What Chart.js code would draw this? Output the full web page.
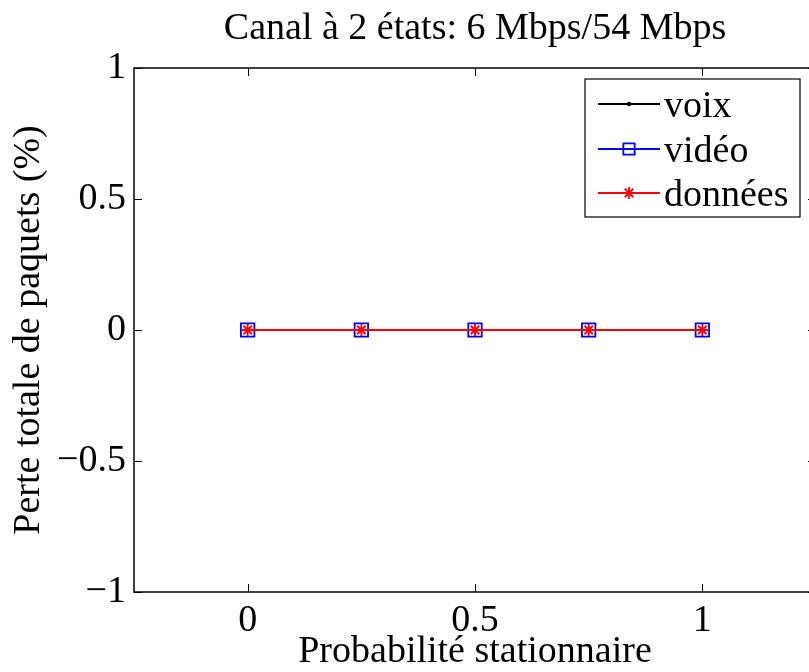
<!DOCTYPE html>
<html>
<head>
<meta charset="utf-8">
<script src="https://cdn.jsdelivr.net/npm/chart.js@4"></script>
<style>
  html, body { margin: 0; padding: 0; background: #fff; overflow: hidden; }
  #wrap { width: 809px; height: 672px; overflow: hidden; }
</style>
</head>
<body>
<div id="wrap"><canvas id="c" width="840" height="672"></canvas></div>
<script>
// data
const probs = [0, 0.25, 0.5, 0.75, 1];
const voix = [0, 0, 0, 0, 0];
const video = [0, 0, 0, 0, 0];
const donnees = [0, 0, 0, 0, 0];
const xTicks = [0, 0.5, 1];
const titleText = 'Canal à 2 états: 6 Mbps/54 Mbps';

const FONT = '"Liberation Serif", "Times New Roman", serif';

const pts = arr => arr.map((v, i) => ({ x: probs[i], y: v }));

// MATLAB-like frame: box, inward ticks, title and legend
const matlabFrame = {
  id: 'matlabFrame',
  afterDraw(chart) {
    const ctx = chart.ctx;
    const a = chart.chartArea;
    const xs = chart.scales.x, ys = chart.scales.y;
    ctx.save();
    ctx.strokeStyle = '#000';
    ctx.lineWidth = 1;
    // inward ticks
    ctx.beginPath();
    xTicks.forEach(t => {
      const px = Math.round(xs.getPixelForValue(t)) + 0.5;
      ctx.moveTo(px, a.bottom); ctx.lineTo(px, a.bottom - 8);
      ctx.moveTo(px, a.top); ctx.lineTo(px, a.top + 8);
    });
    ys.ticks.forEach(t => {
      const py = Math.round(ys.getPixelForValue(t.value)) + 0.5;
      ctx.moveTo(a.left, py); ctx.lineTo(a.left + 8, py);
      ctx.moveTo(a.right, py); ctx.lineTo(a.right - 8, py);
    });
    ctx.stroke();
    // box
    ctx.lineWidth = 1.5;
    ctx.strokeRect(a.left, a.top, a.right - a.left, a.bottom - a.top);

    // title
    ctx.fillStyle = '#000';
    ctx.font = '38px ' + FONT;
    ctx.textAlign = 'center';
    ctx.textBaseline = 'alphabetic';
    ctx.fillText(titleText, (a.left + a.right) / 2, 39);

    // legend
    const lx = 585, ly = 79, lw = 215, lh = 138;
    ctx.fillStyle = '#fff';
    ctx.fillRect(lx, ly, lw, lh);
    ctx.lineWidth = 1.2;
    ctx.strokeStyle = '#000';
    ctx.strokeRect(lx, ly, lw, lh);
    const rows = [104, 149, 193];
    chart.data.datasets.slice().sort((p, q) => p.legendRank - q.legendRank).forEach((ds, i) => {
      const y = rows[i];
      ctx.strokeStyle = ds.borderColor;
      ctx.lineWidth = ds.borderWidth;
      ctx.beginPath();
      ctx.moveTo(598, y); ctx.lineTo(660, y);
      ctx.stroke();
      ctx.fillStyle = ds.backgroundColor;
      ctx.strokeStyle = ds.pointBorderColor;
      ctx.lineWidth = ds.pointBorderWidth;
      Chart.helpers.drawPoint(ctx, {
        pointStyle: ds.pointStyle,
        radius: ds.legendRadius,
        borderWidth: ds.pointBorderWidth,
      }, 629, y);
      ctx.fillStyle = '#000';
      ctx.font = '38px ' + FONT;
      ctx.textAlign = 'left';
      ctx.textBaseline = 'alphabetic';
      ctx.fillText(ds.label, 664, y + 13);
    });
    ctx.restore();
  }
};

new Chart(document.getElementById('c'), {
  type: 'line',
  data: {
    datasets: [
      {
        label: 'données',
        data: pts(donnees),
        borderColor: '#ff0000',
        backgroundColor: '#ff0000',
        pointBorderColor: '#ff0000',
        borderWidth: 1.8,
        pointStyle: 'star',
        pointRadius: 6,
        legendRadius: 6,
        pointBorderWidth: 1.8,
        order: 0,
        legendRank: 2
      },
      {
        label: 'vidéo',
        data: pts(video),
        borderColor: '#0000ff',
        backgroundColor: 'rgba(0,0,0,0)',
        pointBorderColor: '#0000ff',
        borderWidth: 1.8,
        pointStyle: 'rect',
        pointRadius: 9.5,
        legendRadius: 8,
        pointBorderWidth: 1.8,
        order: 1,
        legendRank: 1
      },
      {
        label: 'voix',
        data: pts(voix),
        borderColor: '#000000',
        backgroundColor: '#000000',
        pointBorderColor: '#000000',
        borderWidth: 1.8,
        pointStyle: 'circle',
        pointRadius: 1.5,
        legendRadius: 1.5,
        pointBorderWidth: 1.5,
        order: 2,
        legendRank: 0
      }
    ]
  },
  options: {
    responsive: false,
    animation: false,
    events: [],
    layout: { padding: { top: 68, left: 0, right: 24, bottom: 0 } },
    plugins: {
      legend: { display: false },
      tooltip: { enabled: false },
      title: { display: false }
    },
    scales: {
      x: {
        type: 'linear',
        min: -0.25,
        max: 1.25,
        afterBuildTicks: s => { s.ticks = xTicks.map(v => ({ value: v })); },
        afterFit: s => { s.height = 80; },
        grid: { display: false, drawTicks: false },
        border: { display: false },
        ticks: {
          color: '#000',
          padding: 6,
          font: { family: FONT, size: 38 },
          callback: v => String(v)
        },
        title: {
          display: true,
          text: 'Probabilité stationnaire',
          color: '#000',
          font: { family: FONT, size: 38 },
          padding: { top: 0, bottom: -3 }
        }
      },
      y: {
        min: -1,
        max: 1,
        afterFit: s => { s.width = 134; },
        grid: { display: false, drawTicks: false },
        border: { display: false },
        ticks: {
          stepSize: 0.5,
          color: '#000',
          padding: 8,
          font: { family: FONT, size: 38 },
          callback: v => String(v).replace('-', '\u2212')
        },
        title: {
          display: true,
          text: 'Perte totale de paquets (%)',
          color: '#000',
          font: { family: FONT, size: 38 },
          padding: { top: 6, bottom: 0 }
        }
      }
    }
  },
  plugins: [matlabFrame]
});
</script>
</body>
</html>
